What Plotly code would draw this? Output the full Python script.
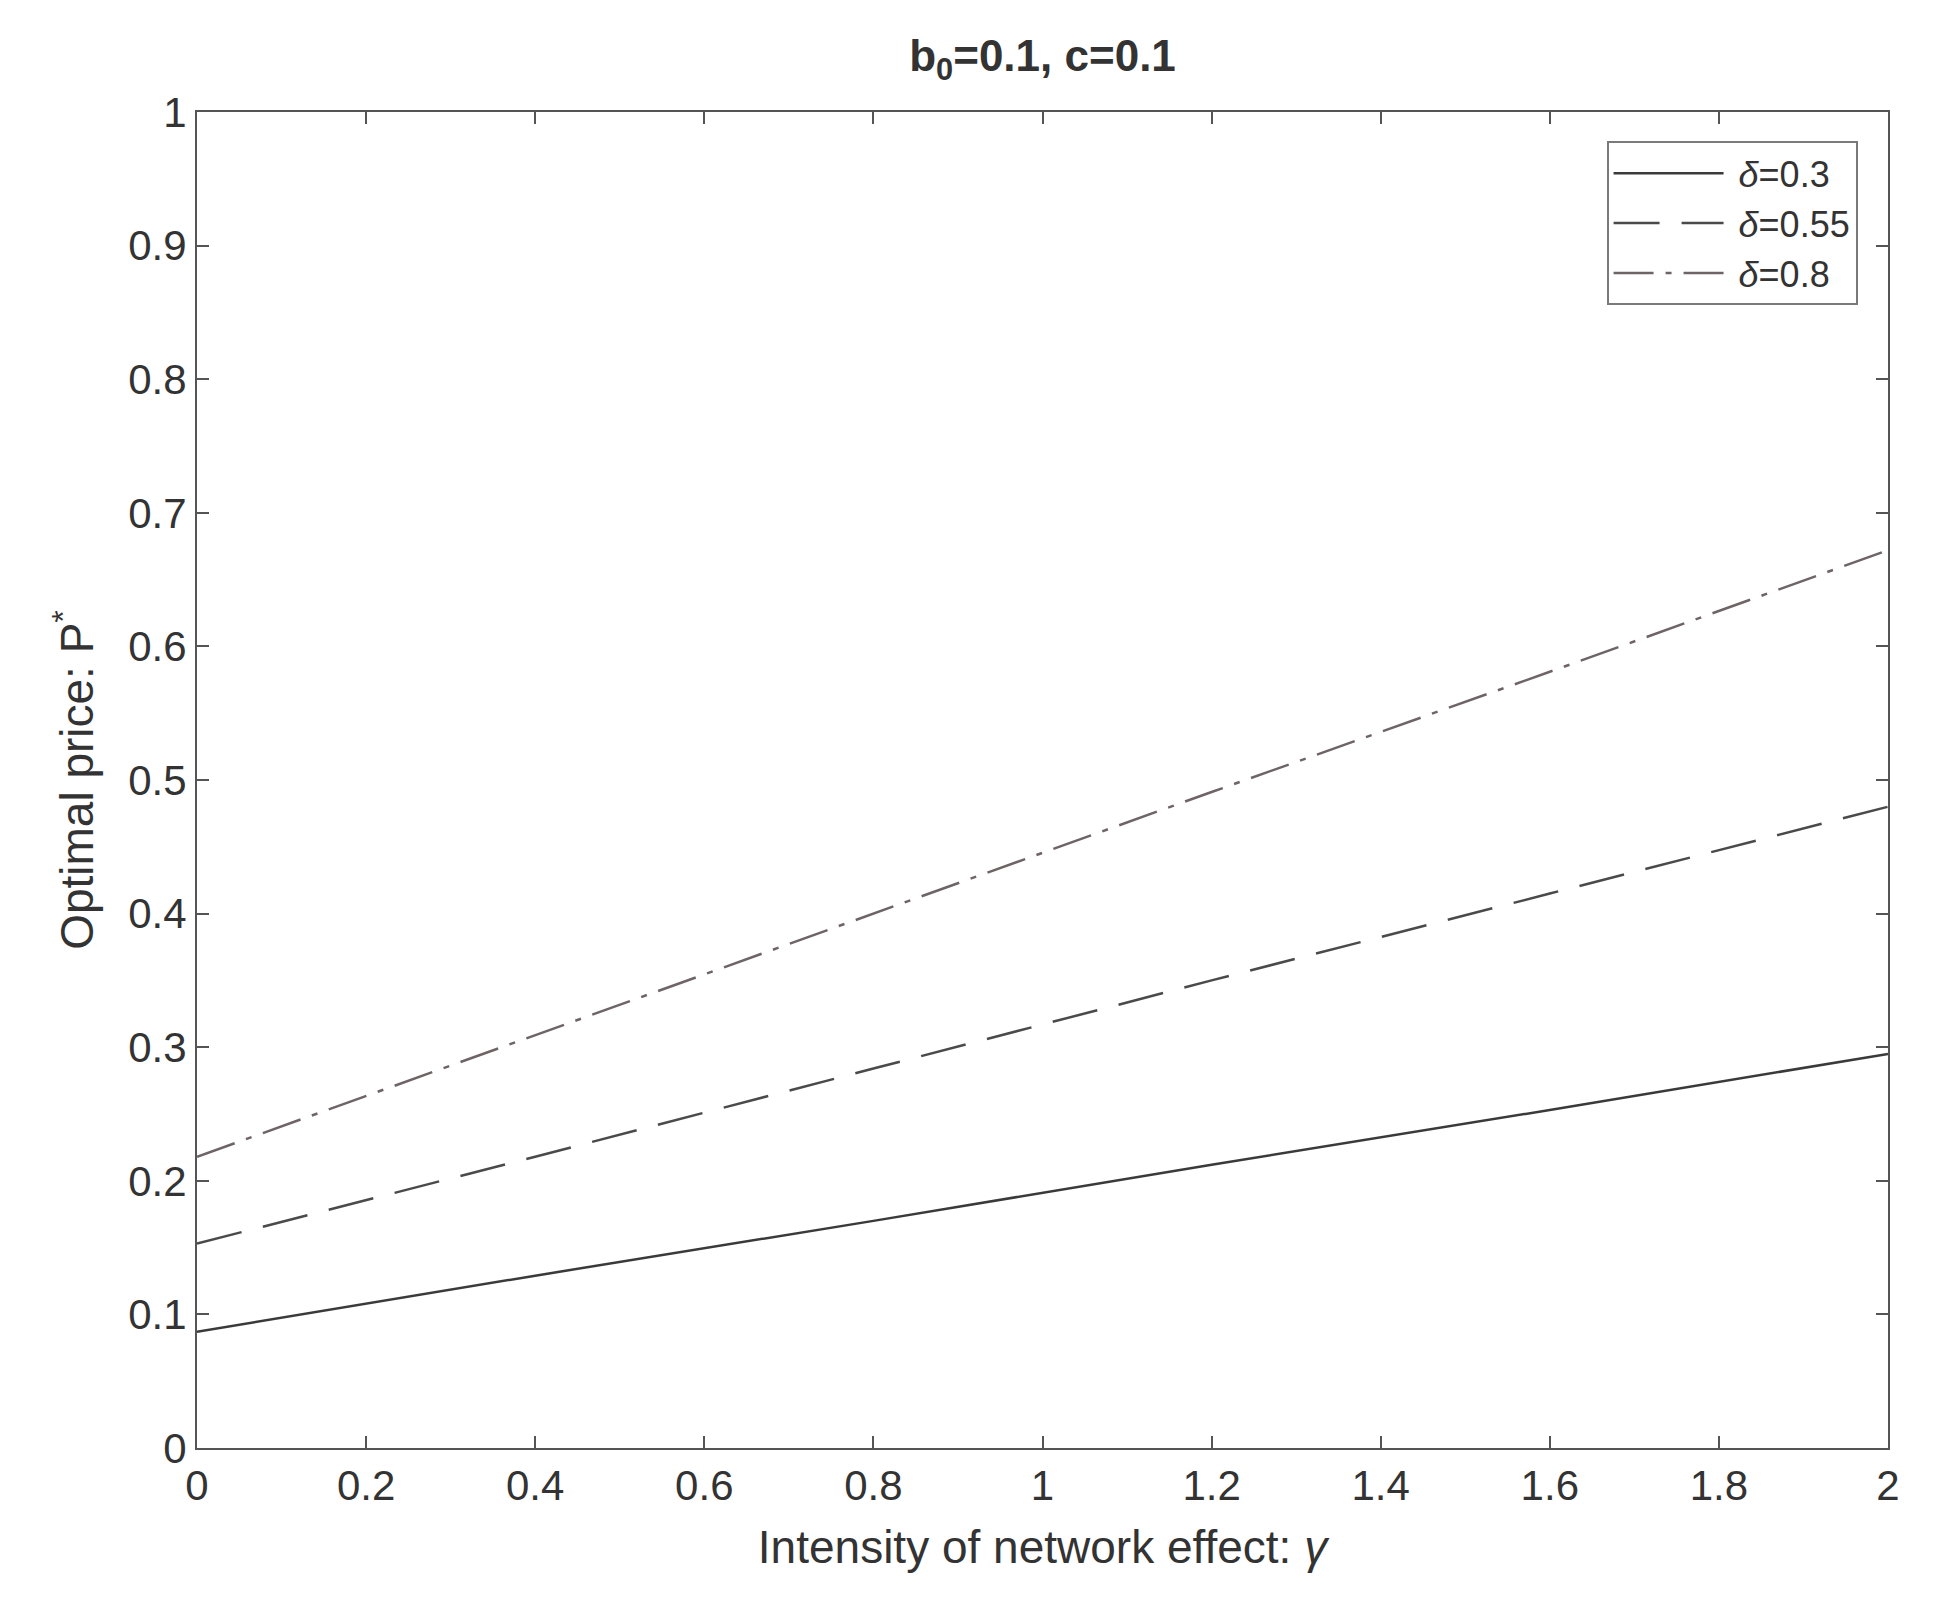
import plotly.graph_objects as go

# network-effect intensity (gamma) and optimal price for three delta values
gamma = [0, 0.4, 0.8, 1.2, 1.6, 2.0]
price_d03 = [0.087, 0.129, 0.170, 0.212, 0.253, 0.295]
price_d055 = [0.153, 0.218, 0.284, 0.350, 0.415, 0.480]
price_d08 = [0.218, 0.309, 0.400, 0.491, 0.581, 0.672]

x_ticks = [0, 0.2, 0.4, 0.6, 0.8, 1, 1.2, 1.4, 1.6, 1.8, 2]
y_ticks = [0, 0.1, 0.2, 0.3, 0.4, 0.5, 0.6, 0.7, 0.8, 0.9, 1]

FONT = "Liberation Sans, Arial, sans-serif"
INK = "#333333"

fig = go.Figure()

fig.add_trace(go.Scatter(
    x=gamma, y=price_d03, mode="lines", name=" <i>δ</i>=0.3",
    line=dict(color="#3a3a3a", width=2.5, dash="solid")
))
fig.add_trace(go.Scatter(
    x=gamma, y=price_d055, mode="lines", name=" <i>δ</i>=0.55",
    line=dict(color="#4a4a4a", width=2.5, dash="46px,22px")
))
fig.add_trace(go.Scatter(
    x=gamma, y=price_d08, mode="lines", name=" <i>δ</i>=0.8",
    line=dict(color="#6e6466", width=2.5, dash="40px,12px,6px,12px")
))

fig.update_layout(
    width=1920, height=1593,
    margin=dict(l=189, r=40, t=104, b=153),
    paper_bgcolor="white", plot_bgcolor="white",
    font=dict(family=FONT, size=42, color=INK),
    title=dict(
        text="<b>b<sub>0</sub>=0.1, c=0.1</b>",
        x=0.5, xref="paper", xanchor="center",
        y=0.97, yref="container", yanchor="middle",
        font=dict(size=44, color=INK)
    ),
    showlegend=True,
    legend=dict(
        x=0.982, y=0.978, xanchor="right", yanchor="top",
        bgcolor="white", bordercolor="#7a7a7a", borderwidth=2,
        font=dict(size=36, color=INK),
        itemwidth=110,
        tracegroupgap=2
    ),
)

fig.update_xaxes(
    range=[0, 2], tickvals=x_ticks, ticktext=[f"{v:g}" for v in x_ticks],
    showgrid=False, zeroline=False,
    showline=True, linecolor="#555555", linewidth=2, mirror="ticks",
    ticks="inside", ticklen=12, tickwidth=2, tickcolor="#555555",
    title=dict(text="Intensity of network effect: <i>γ</i>", standoff=22,
               font=dict(size=46, color=INK))
)
fig.update_yaxes(
    range=[0, 1], tickvals=y_ticks, ticktext=[f"{v:g}" for v in y_ticks],
    showgrid=False, zeroline=False,
    showline=True, linecolor="#555555", linewidth=2, mirror="ticks",
    ticks="inside", ticklen=12, tickwidth=2, tickcolor="#555555",
    title=dict(text="Optimal price: P<sup>*</sup>", standoff=20,
               font=dict(size=46, color=INK))
)

fig.write_html("out.html")
